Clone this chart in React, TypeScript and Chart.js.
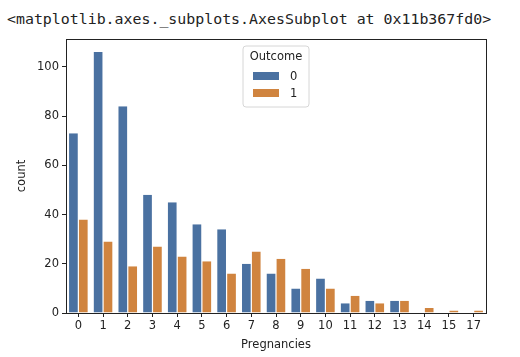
import React, { useEffect, useRef } from "react";
import { Chart, registerables } from "chart.js";

Chart.register(...registerables);

const categories = ["0", "1", "2", "3", "4", "5", "6", "7", "8", "9", "10", "11", "12", "13", "14", "15", "17"];
const outcome0 = [73, 106, 84, 48, 45, 36, 34, 20, 16, 10, 14, 4, 5, 5, 0, 0, 0];
const outcome1 = [38, 29, 19, 27, 23, 21, 16, 25, 22, 18, 10, 7, 4, 5, 2, 1, 1];
const seriesLabels = ["0", "1"];
const yTicks = [0, 20, 40, 60, 80, 100];

const BLUE = "#4a71a1";
const ORANGE = "#d0843f";
const FONT = "'DejaVu Sans', sans-serif";
const TXT = "#222";

const legendPlugin = {
  id: "mplLegend",
  afterDraw(chart: any) {
    const ctx = chart.ctx;
    ctx.save();
    const x = 243, y = 46, w = 66, h = 61, r = 3;
    ctx.beginPath();
    ctx.moveTo(x + r, y);
    ctx.lineTo(x + w - r, y);
    ctx.quadraticCurveTo(x + w, y, x + w, y + r);
    ctx.lineTo(x + w, y + h - r);
    ctx.quadraticCurveTo(x + w, y + h, x + w - r, y + h);
    ctx.lineTo(x + r, y + h);
    ctx.quadraticCurveTo(x, y + h, x, y + h - r);
    ctx.lineTo(x, y + r);
    ctx.quadraticCurveTo(x, y, x + r, y);
    ctx.closePath();
    ctx.fillStyle = "rgba(255,255,255,0.8)";
    ctx.fill();
    ctx.strokeStyle = "#d6d6d6";
    ctx.lineWidth = 1;
    ctx.stroke();
    ctx.fillStyle = TXT;
    ctx.font = `11.5px ${FONT}`;
    ctx.textAlign = "center";
    ctx.textBaseline = "middle";
    ctx.fillText("Outcome", x + w / 2, 57);
    const colors = [BLUE, ORANGE];
    const ys = [76, 93];
    ctx.textAlign = "left";
    for (let i = 0; i < 2; i++) {
      ctx.fillStyle = colors[i];
      ctx.fillRect(253, ys[i] - 4, 26, 8);
      ctx.fillStyle = TXT;
      ctx.fillText(seriesLabels[i], 290, ys[i] + 1);
    }
    const a = chart.chartArea;
    ctx.strokeStyle = "#222";
    ctx.lineWidth = 1;
    ctx.strokeRect(Math.round(a.left) + 0.5, Math.round(a.top) + 0.5, Math.round(a.right - a.left), Math.round(a.bottom - a.top));
    ctx.restore();
  },
};

export default function App() {
  const ref = useRef<HTMLCanvasElement>(null);
  useEffect(() => {
    const bw = { left: 0.6, right: 0.6, top: 0, bottom: 0 };
    const chart = new Chart(ref.current!, {
      type: "bar",
      data: {
        labels: categories,
        datasets: [
          { label: seriesLabels[0], data: outcome0, backgroundColor: BLUE, borderColor: "#ffffff", borderWidth: bw },
          { label: seriesLabels[1], data: outcome1, backgroundColor: ORANGE, borderColor: "#ffffff", borderWidth: bw },
        ],
      },
      options: {
        responsive: false,
        animation: false,
        layout: { padding: { left: 0, right: 34, top: 39, bottom: 0 } },
        plugins: { legend: { display: false }, tooltip: { enabled: false } },
        datasets: { bar: { categoryPercentage: 0.8, barPercentage: 1.0 } },
        scales: {
          x: {
            type: "category",
            offset: true,
            grid: { display: true, drawOnChartArea: false, drawTicks: true, tickLength: 4, color: TXT, offset: false },
            border: { display: true, color: TXT },
            ticks: { color: TXT, font: { family: FONT, size: 11.5 }, padding: 2, maxRotation: 0, autoSkip: false },
            title: { display: true, text: "Pregnancies", color: TXT, font: { family: FONT, size: 11.5 }, padding: { top: 0, bottom: 5 } },
            afterFit: (s: any) => { s.height = 44; },
          },
          y: {
            min: 0,
            max: 111.3,
            afterBuildTicks: (s: any) => { s.ticks = yTicks.map((v) => ({ value: v })); },
            grid: { display: true, drawOnChartArea: false, drawTicks: true, tickLength: 4, color: TXT },
            border: { display: true, color: TXT },
            ticks: { color: TXT, font: { family: FONT, size: 11.5 }, padding: 3 },
            title: { display: true, text: "count", color: TXT, font: { family: FONT, size: 11.5 }, padding: { top: 15, bottom: 0 } },
            afterFit: (s: any) => { s.width = 66; },
          },
        },
      },
      plugins: [legendPlugin],
    });
    return () => chart.destroy();
  }, []);
  return (
    <div style={{ position: "absolute", left: 0, top: 0, width: 520, height: 357, background: "#fff" }}>
      <div
        style={{
          position: "absolute",
          left: 7,
          top: 10,
          fontFamily: "'DejaVu Sans Mono', monospace",
          fontSize: 14.9,
          lineHeight: "18px",
          color: "#222",
          whiteSpace: "pre",
        }}
      >
        {"<matplotlib.axes._subplots.AxesSubplot at 0x11b367fd0>"}
      </div>
      <canvas ref={ref} width={520} height={357} style={{ position: "absolute", left: 0, top: 0 }} />
    </div>
  );
}
